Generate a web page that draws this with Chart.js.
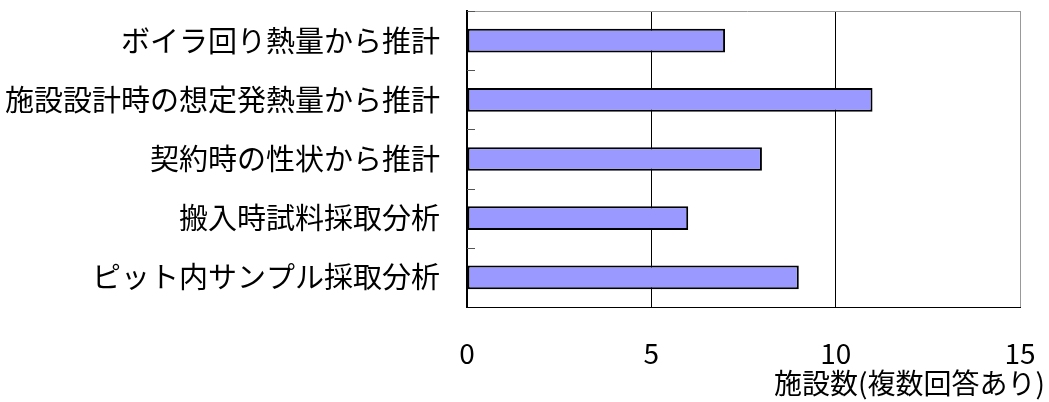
<!DOCTYPE html>
<html>
<head>
<meta charset="utf-8">
<script src="https://cdn.jsdelivr.net/npm/chart.js@4"></script>
<style>
  html, body { margin: 0; padding: 0; background: #fff; }
  #wrap { width: 1049px; height: 402px; }
</style>
</head>
<body>
<div id="wrap"><canvas id="myChart" width="1049" height="402"></canvas></div>
<script>
const categories = [
  'ボイラ回り熱量から推計',
  '施設設計時の想定発熱量から推計',
  '契約時の性状から推計',
  '搬入時試料採取分析',
  'ピット内サンプル採取分析'
];
const counts = [7, 11, 8, 6, 9];
const xTicks = [0, 5, 10, 15];
const axisTitle = '施設数(複数回答あり)';

const FONT = '"Noto Sans CJK JP", "Noto Sans", sans-serif';

// small inward ticks between categories, grey top edge, and the axis title
const framePlugin = {
  id: 'frame',
  afterDraw: (chart) => {
    const { ctx, chartArea, scales } = chart;
    const y = scales.y;
    ctx.save();
    ctx.strokeStyle = '#555';
    ctx.lineWidth = 1;
    ctx.beginPath();
    for (let i = 1; i < categories.length; i++) {
      const py = Math.round(y.getPixelForValue(i - 0.5)) + 0.5;
      ctx.moveTo(chartArea.left, py);
      ctx.lineTo(chartArea.left + 8, py);
    }
    ctx.moveTo(chartArea.left, chartArea.top + 0.5);
    ctx.lineTo(chartArea.left + 8, chartArea.top + 0.5);
    ctx.stroke();

    ctx.strokeStyle = '#999';
    ctx.beginPath();
    ctx.moveTo(chartArea.left + 8, chartArea.top + 0.5);
    ctx.lineTo(chartArea.right, chartArea.top + 0.5);
    ctx.stroke();

    ctx.fillStyle = '#000';
    ctx.font = '28px ' + FONT;
    ctx.textAlign = 'right';
    ctx.textBaseline = 'middle';
    ctx.fillText(axisTitle, chartArea.right + 25, 383);
    ctx.restore();
  }
};

new Chart(document.getElementById('myChart'), {
  type: 'bar',
  data: {
    labels: categories,
    datasets: [{
      data: counts,
      backgroundColor: '#9999FF',
      borderColor: '#000',
      borderWidth: 2,
      borderSkipped: false,
      barPercentage: 0.4,
      categoryPercentage: 1
    }]
  },
  options: {
    indexAxis: 'y',
    responsive: false,
    animation: false,
    layout: { padding: { top: 11, right: 29, bottom: 0, left: 0 } },
    plugins: { legend: { display: false }, tooltip: { enabled: false } },
    scales: {
      x: {
        min: 0,
        max: 15,
        afterBuildTicks: (scale) => { scale.ticks = xTicks.map(v => ({ value: v })); },
        grid: {
          color: (c) => c.index === 3 ? '#999' : '#000',
          lineWidth: 1,
          drawTicks: false
        },
        border: { display: true, color: '#000', width: 1 },
        ticks: {
          padding: 30,
          color: '#000',
          font: { family: FONT, size: 28 }
        },
        afterFit: (scale) => {
          scale.height = 95;
          scale.paddingLeft = 0;
          scale.paddingRight = 0;
        }
      },
      y: {
        grid: { display: false, drawTicks: false },
        border: { display: true, color: '#000', width: 2 },
        ticks: {
          padding: 27,
          color: '#000',
          font: { family: FONT, size: 29 }
        },
        afterFit: (scale) => {
          scale.width = 467;
          scale.paddingTop = 0;
          scale.paddingBottom = 0;
        }
      }
    }
  },
  plugins: [framePlugin]
});
</script>
</body>
</html>
